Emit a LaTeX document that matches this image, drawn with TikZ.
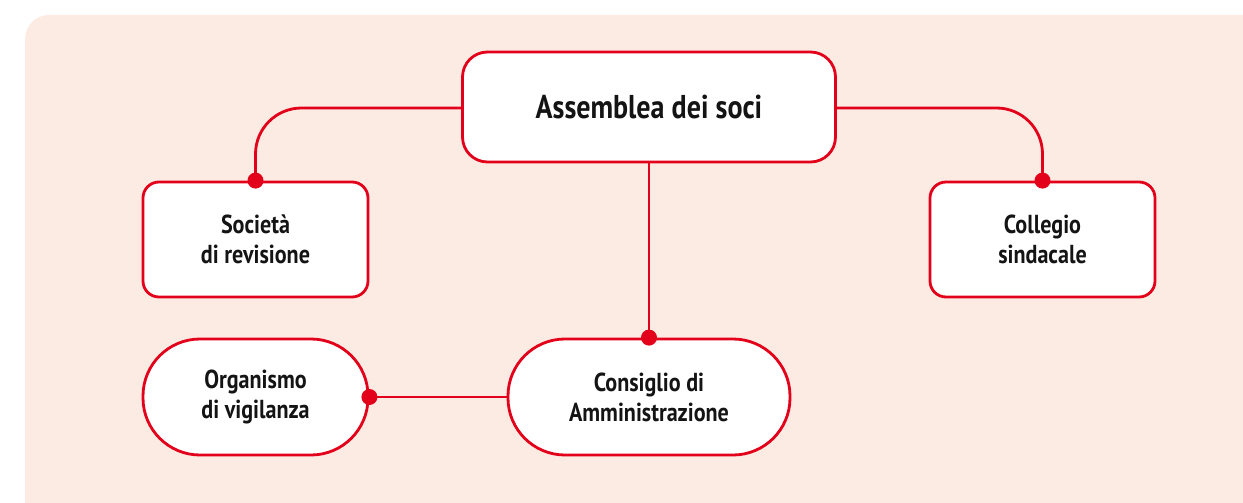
\documentclass[tikz,border=0pt]{standalone}
\usepackage{fontspec}
\setmainfont{PT Sans}[FakeStretch=0.85]
\definecolor{bgpeach}{HTML}{FCEBE3}
\definecolor{linered}{HTML}{E2001A}
\definecolor{txt}{HTML}{141414}
\tikzset{
  box/.style={draw=linered, line width=2.8pt, fill=white, text=txt, align=center,
    font=\bfseries\fontsize{26}{30}\selectfont, inner sep=0pt},
  rbox/.style={box, rounded corners=16pt, minimum width=225pt, minimum height=115pt},
  pill/.style={box, rounded corners=57pt, minimum height=116pt},
  conn/.style={draw=linered, line width=2.8pt, rounded corners=46pt},
  dotmark/.style={fill=linered}
}
\begin{document}
\begin{tikzpicture}[x=1pt,y=-1pt]
\useasboundingbox (0,0) rectangle (1243,503);
\clip (0,0) rectangle (1243,503);
\fill[bgpeach, rounded corners=24pt] (25,15) rectangle (1290,560);
\node[box, rounded corners=25pt, minimum width=373pt, minimum height=110pt,
  font=\bfseries\fontsize{33}{38}\selectfont] (A) at (649,107) {Assemblea dei soci};
\node[rbox] (S) at (255.5,239.5) {Società\\di revisione};
\node[rbox] (C) at (1042.5,239.5) {Collegio\\sindacale};
\node[pill, minimum width=225pt] (O) at (255.5,397) {Organismo\\di vigilanza};
\node[pill, minimum width=282pt] (K) at (649,397) {Consiglio di\\Amministrazione};
\coordinate (Al) at ([yshift=-1pt]A.west);
\coordinate (Ar) at ([yshift=-1pt]A.east);
\draw[conn] (Al) -| (S.north);
\draw[conn] (Ar) -| (C.north);
\draw[conn] (A.south) -- (K.north);
\draw[conn] (K.west) -- (O.east);
\fill[dotmark] (S.north) circle (8pt);
\fill[dotmark] (C.north) circle (8pt);
\fill[dotmark] (K.north) circle (8pt);
\fill[dotmark] (O.east) circle (8pt);
\end{tikzpicture}
\end{document}
